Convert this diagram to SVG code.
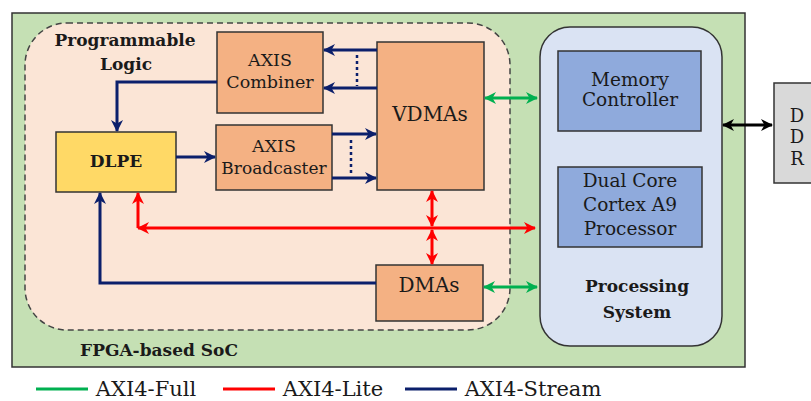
<svg xmlns="http://www.w3.org/2000/svg" width="811" height="401" viewBox="0 0 811 401">
<defs>
<style>
.t{font-family:"DejaVu Serif","Liberation Serif",serif;fill:#1a1a1a;text-anchor:middle}
.b{font-weight:bold}
.box{stroke:#333;stroke-width:1.5}
.c{fill:none;stroke-width:3}
.nv{stroke:#0b1f6b}
.rd{stroke:#ff0000}
.gr{stroke:#00b050}
.bk{stroke:#000}
</style>
<marker id="aN" markerUnits="userSpaceOnUse" markerWidth="13" markerHeight="12" refX="11" refY="6" orient="auto-start-reverse" viewBox="0 0 13 12"><path d="M0,0 L12,6 L0,12 L3.5,6 z" fill="#0b1f6b"/></marker>
<marker id="aR" markerUnits="userSpaceOnUse" markerWidth="13" markerHeight="12" refX="11" refY="6" orient="auto-start-reverse" viewBox="0 0 13 12"><path d="M0,0 L12,6 L0,12 L3.5,6 z" fill="#ff0000"/></marker>
<marker id="aG" markerUnits="userSpaceOnUse" markerWidth="13" markerHeight="12" refX="11" refY="6" orient="auto-start-reverse" viewBox="0 0 13 12"><path d="M0,0 L12,6 L0,12 L3.5,6 z" fill="#00b050"/></marker>
<marker id="aK" markerUnits="userSpaceOnUse" markerWidth="13" markerHeight="12" refX="11" refY="6" orient="auto-start-reverse" viewBox="0 0 13 12"><path d="M0,0 L12,6 L0,12 L3.5,6 z" fill="#000"/></marker>
</defs>
<rect width="811" height="401" fill="#fff"/>
<g id="soc">
<rect x="12" y="13" width="733" height="354" fill="#c5e0b4" stroke="#333" stroke-width="1.5"/>
<text class="t b" x="159" y="356" font-size="17">FPGA-based SoC</text>
</g>
<g id="pl">
<rect x="25" y="23" width="485" height="307" rx="42" fill="#fbe5d6" stroke="#444" stroke-width="1.5" stroke-dasharray="6,4"/>
<text class="t b" x="125" y="46" font-size="17">Programmable</text>
<text class="t b" x="126" y="70" font-size="17">Logic</text>
</g>
<g id="ps">
<rect x="540" y="27" width="182" height="319" rx="30" fill="#dae3f3" stroke="#333" stroke-width="1.5"/>
<text class="t b" x="637" y="292" font-size="17">Processing</text>
<text class="t b" x="637" y="318" font-size="17">System</text>
</g>
<g id="combiner">
<rect class="box" x="217" y="32" width="106" height="81" fill="#f4b183"/>
<text class="t" x="270" y="66" font-size="17.5">AXIS</text>
<text class="t" x="270" y="88" font-size="17.5">Combiner</text>
</g>
<g id="broadcaster">
<rect class="box" x="216" y="125" width="116" height="65" fill="#f4b183"/>
<text class="t" x="274" y="152" font-size="17.5">AXIS</text>
<text class="t" x="274" y="174" font-size="17">Broadcaster</text>
</g>
<g id="vdmas">
<rect class="box" x="377" y="42" width="107" height="148" fill="#f4b183"/>
<text class="t" x="430" y="121" font-size="20">VDMAs</text>
</g>
<g id="dlpe">
<rect class="box" x="56" y="132" width="120" height="60" fill="#ffd966"/>
<text class="t b" x="116" y="167" font-size="17">DLPE</text>
</g>
<g id="dmas">
<rect class="box" x="376" y="265" width="107" height="56" fill="#f4b183"/>
<text class="t" x="429" y="292" font-size="20">DMAs</text>
</g>
<g id="memctrl">
<rect class="box" x="558" y="51" width="143" height="80" fill="#8faadc"/>
<text class="t" x="630" y="86" font-size="18.5">Memory</text>
<text class="t" x="630" y="106" font-size="18.5">Controller</text>
</g>
<g id="cpu">
<rect class="box" x="558" y="167" width="144" height="80" fill="#8faadc"/>
<text class="t" x="630" y="187" font-size="18.5">Dual Core</text>
<text class="t" x="630" y="211" font-size="18.5">Cortex A9</text>
<text class="t" x="630" y="235" font-size="18.5">Processor</text>
</g>
<g id="ddr">
<rect class="box" x="774" y="83" width="45" height="100" fill="#d9d9d9"/>
<text class="t" x="797" y="122" font-size="18">D</text>
<text class="t" x="797" y="143" font-size="18">D</text>
<text class="t" x="797" y="165" font-size="18">R</text>
</g>
<g id="connectors">
<line class="c nv" x1="377" y1="50" x2="324" y2="50" marker-end="url(#aN)"/>
<line class="c nv" x1="377" y1="88" x2="324" y2="88" marker-end="url(#aN)"/>
<line x1="357" y1="55" x2="357" y2="86" stroke="#0b1f6b" stroke-width="2.5" stroke-dasharray="3,3"/>
<line class="c nv" x1="332" y1="134" x2="376" y2="134" marker-end="url(#aN)"/>
<line class="c nv" x1="332" y1="178" x2="376" y2="178" marker-end="url(#aN)"/>
<line x1="351" y1="140" x2="351" y2="176" stroke="#0b1f6b" stroke-width="2.5" stroke-dasharray="3,3"/>
<polyline class="c nv" points="217,82 117,82 117,131" marker-end="url(#aN)"/>
<line class="c nv" x1="176" y1="157" x2="215" y2="157" marker-end="url(#aN)"/>
<polyline class="c nv" points="376,283 100,283 100,193" marker-end="url(#aN)"/>
<line class="c rd" x1="138" y1="228" x2="535" y2="228" marker-start="url(#aR)" marker-end="url(#aR)"/>
<line class="c rd" x1="138" y1="228" x2="138" y2="193" marker-end="url(#aR)"/>
<line class="c rd" x1="432" y1="191" x2="432" y2="226" marker-start="url(#aR)" marker-end="url(#aR)"/>
<line class="c rd" x1="432" y1="230" x2="432" y2="264" marker-start="url(#aR)" marker-end="url(#aR)"/>
<line class="c gr" x1="485" y1="98" x2="537" y2="98" marker-start="url(#aG)" marker-end="url(#aG)"/>
<line class="c gr" x1="484" y1="287" x2="537" y2="287" marker-start="url(#aG)" marker-end="url(#aG)"/>
<line class="c bk" x1="723" y1="125" x2="772" y2="125" marker-start="url(#aK)" marker-end="url(#aK)" stroke-width="2.5"/>
</g>
<g id="legend">
<line x1="36" y1="389" x2="88" y2="389" stroke="#00b050" stroke-width="3"/>
<text class="t" x="146" y="396" font-size="21">AXI4-Full</text>
<line x1="223" y1="389" x2="275" y2="389" stroke="#ff0000" stroke-width="3"/>
<text class="t" x="333" y="396" font-size="21">AXI4-Lite</text>
<line x1="405" y1="389" x2="457" y2="389" stroke="#0b1f6b" stroke-width="3"/>
<text class="t" x="533" y="396" font-size="21">AXI4-Stream</text>
</g>
</svg>
